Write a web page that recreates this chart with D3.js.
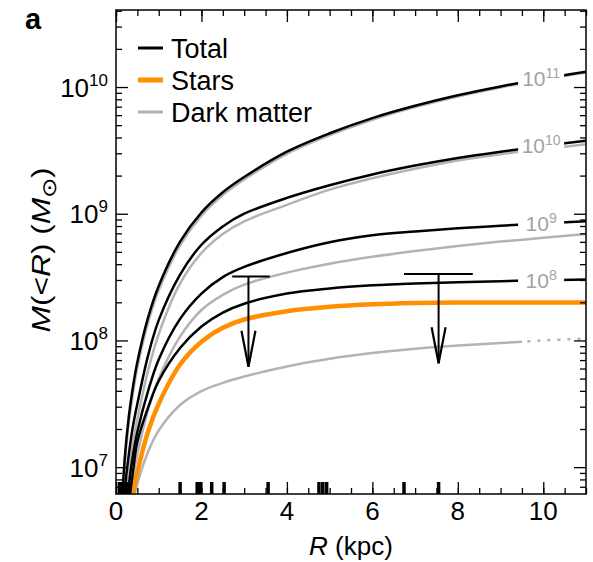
<!DOCTYPE html>
<html>
<head>
<meta charset="utf-8">
<script src="https://cdn.jsdelivr.net/npm/d3@7"></script>
<style>
  body { margin: 0; background: #fff; }
  svg { display: block; font-family: "Liberation Sans", Arial, Helvetica, sans-serif; }
</style>
</head>
<body>
<svg id="chart" width="593" height="562"></svg>
<script>
var radius = [0.1, 0.2, 0.3, 0.4, 0.5, 0.75, 1, 1.5, 2, 2.5, 3, 4, 5, 6, 7, 8, 9, 10, 11];

// log10 M(<R) in solar masses, one list per curve
var total11 = [6.45, 7.05, 7.40, 7.64, 7.83, 8.18, 8.43, 8.78, 9.01, 9.17, 9.29, 9.49, 9.635, 9.755, 9.852, 9.935, 10.005, 10.066, 10.12];
var dm11    = [6.40, 7.00, 7.35, 7.59, 7.785, 8.14, 8.395, 8.75, 8.985, 9.147, 9.27, 9.473, 9.62, 9.742, 9.842, 9.926, 9.997, 10.059, 10.114];
var total10 = [6.20, 6.80, 7.10, 7.33, 7.50, 7.88, 8.16, 8.52, 8.755, 8.90, 9.00, 9.125, 9.225, 9.31, 9.38, 9.44, 9.49, 9.535, 9.576];
var dm10    = [6.00, 6.60, 6.95, 7.20, 7.38, 7.76, 8.05, 8.45, 8.69, 8.84, 8.94, 9.07, 9.19, 9.28, 9.355, 9.42, 9.47, 9.51, 9.548];
var total9  = [5.90, 6.50, 6.85, 7.10, 7.28, 7.60, 7.85, 8.17, 8.37, 8.50, 8.58, 8.69, 8.775, 8.83, 8.86, 8.885, 8.905, 8.925, 8.94];
var dm9     = [5.60, 6.30, 6.65, 6.92, 7.10, 7.45, 7.70, 8.03, 8.24, 8.36, 8.44, 8.535, 8.605, 8.66, 8.705, 8.745, 8.78, 8.81, 8.84];
var total8  = [5.60, 6.30, 6.70, 6.97, 7.20, 7.47, 7.68, 7.94, 8.11, 8.22, 8.29, 8.37, 8.41, 8.435, 8.45, 8.46, 8.468, 8.474, 8.48];
var dm8     = [5.20, 5.95, 6.40, 6.72, 6.87, 7.12, 7.29, 7.49, 7.60, 7.665, 7.715, 7.795, 7.855, 7.90, 7.935, 7.96, 7.98, 8.00, 8.015];
var stars   = [5.50, 6.10, 6.50, 6.79, 6.96, 7.28, 7.50, 7.81, 7.99, 8.10, 8.165, 8.23, 8.265, 8.285, 8.295, 8.30, 8.30, 8.30, 8.30];
var dm8SolidTo = 9.5;   // beyond this the 10^8 halo is dotted

// halo labels on the right, attached to the total curves
var haloExp = [11, 10, 9, 8];
var haloLabelR = 9.95;

// upper limits (bar + downward arrow)
var limR    = [3.1, 7.55];
var limRlo  = [2.72, 6.74];
var limRhi  = [3.6, 8.35];
var limM    = [3.2e8, 3.35e8];
var limTipM = [6.2e7, 6.6e7];

// rug of data radii along the bottom
var rugR = [0.08, 0.13, 0.18, 0.23, 0.3, 1.5, 1.9, 1.97, 2.24, 2.53, 3.56, 4.75, 4.84, 4.93, 6.74, 7.55];

// axes
var xDomain = [0, 11];
var xMajor = [0, 2, 4, 6, 8, 10];
var xMinorStep = 0.5;
var yDomainExp = [6.788, 10.608];
var yMajorExp = [7, 8, 9, 10];

var legendItems = [
  {txt: 'Total', color: '#000', w: 3},
  {txt: 'Stars', color: '#ff8f00', w: 5},
  {txt: 'Dark matter', color: '#b3b3b3', w: 3}
];

var GRAY = '#b3b3b3', ORANGE = '#ff8f00', LABELGRAY = '#a3a3a3';

var margin = {top: 10, right: 7, bottom: 68, left: 116};
var width = 593 - margin.left - margin.right;
var height = 562 - margin.top - margin.bottom;

var svg = d3.select('#chart');
var g = svg.append('g').attr('transform', 'translate(' + margin.left + ',' + margin.top + ')');

var x = d3.scaleLinear().domain(xDomain).range([0, width]);
var y = d3.scaleLog()
  .domain([Math.pow(10, yDomainExp[0]), Math.pow(10, yDomainExp[1])])
  .range([height, 0]);

var defs = svg.append('defs');
defs.append('clipPath').attr('id', 'plot').append('rect')
  .attr('width', width).attr('height', height);
defs.append('clipPath').attr('id', 'solidPart').append('rect')
  .attr('width', x(dm8SolidTo)).attr('height', height);
defs.append('clipPath').attr('id', 'dotPart').append('rect')
  .attr('x', x(dm8SolidTo)).attr('width', width - x(dm8SolidTo)).attr('height', height);

var line = d3.line()
  .x(function(d) { return x(d[0]); })
  .y(function(d) { return y(Math.pow(10, d[1])); })
  .curve(d3.curveCatmullRom.alpha(0.5));
function pts(vals) { return radius.map(function(r, i) { return [r, vals[i]]; }); }

var curves = g.append('g').attr('clip-path', 'url(#plot)');
function drawCurve(vals, color, w, clip, dash) {
  var p = curves.append('path')
    .attr('d', line(pts(vals)))
    .attr('fill', 'none')
    .attr('stroke', color)
    .attr('stroke-width', w);
  if (clip) p.attr('clip-path', 'url(#' + clip + ')');
  if (dash) p.attr('stroke-dasharray', dash);
  return p;
}

// dark matter first, totals on top
drawCurve(dm8, GRAY, 2.5, 'solidPart');
drawCurve(dm8, GRAY, 2.5, 'dotPart', '3,7');
drawCurve(dm9, GRAY, 2.5);
drawCurve(dm10, GRAY, 2.5);
drawCurve(dm11, GRAY, 2.5);
drawCurve(stars, ORANGE, 4.5);
var totals = [total11, total10, total9, total8];
totals.forEach(function(t) { drawCurve(t, '#000', 2.5); });

// halo mass labels sitting on the total curves
var ri = radius.indexOf(10);
haloExp.forEach(function(e, i) {
  var cy = y(Math.pow(10, totals[i][ri]));
  var cx = x(haloLabelR);
  g.append('rect')
    .attr('x', cx - 23).attr('y', cy - 8)
    .attr('width', 46).attr('height', 16)
    .attr('fill', '#fff');
  var t = g.append('text')
    .attr('x', cx).attr('y', cy + 7.5)
    .attr('text-anchor', 'middle')
    .attr('fill', LABELGRAY)
    .style('font-size', '21px');
  t.append('tspan').text('10');
  t.append('tspan').attr('dy', -8).style('font-size', '14px').text(e);
});

// upper limits
var lims = g.append('g').attr('stroke', '#000').attr('stroke-width', 2).attr('fill', 'none');
limR.forEach(function(r, i) {
  var xb = x(r), yb = y(limM[i]), yt = y(limTipM[i]);
  lims.append('line').attr('x1', x(limRlo[i])).attr('x2', x(limRhi[i])).attr('y1', yb).attr('y2', yb);
  lims.append('line').attr('x1', xb).attr('x2', xb).attr('y1', yb).attr('y2', yt);
  lims.append('path')
    .attr('d', 'M' + (xb - 7) + ',' + (yt - 36) + 'L' + xb + ',' + yt + 'L' + (xb + 7) + ',' + (yt - 36))
    .attr('stroke-width', 2.2);
});

// rug
g.append('g').selectAll('line').data(rugR).join('line')
  .attr('x1', function(d) { return x(d); })
  .attr('x2', function(d) { return x(d); })
  .attr('y1', height).attr('y2', height - 12)
  .attr('stroke', '#000').attr('stroke-width', 3.5);

// ticks, all pointing inwards
var xMinor = d3.range(xDomain[0], xDomain[1] + 0.001, xMinorStep);
var yMajor = yMajorExp.map(function(e) { return Math.pow(10, e); });
var yMinor = [];
d3.range(6, 11).forEach(function(dec) {
  d3.range(2, 10).forEach(function(k) {
    var v = k * Math.pow(10, dec);
    if (v > y.domain()[0] && v < y.domain()[1]) yMinor.push(v);
  });
});

function ticks(axisFn, scale, vals, size, tx, ty) {
  g.append('g')
    .attr('transform', 'translate(' + tx + ',' + ty + ')')
    .call(axisFn(scale).tickValues(vals).tickSize(size).tickFormat(''))
    .call(function(a) {
      a.select('.domain').remove();
      a.selectAll('line').attr('stroke', '#000').attr('stroke-width', 1.3);
    });
}
ticks(d3.axisBottom, x, xMinor, -6, 0, height);
ticks(d3.axisBottom, x, xMajor, -12, 0, height);
ticks(d3.axisTop, x, xMinor, -6, 0, 0);
ticks(d3.axisTop, x, xMajor, -12, 0, 0);
ticks(d3.axisLeft, y, yMinor, -6, 0, 0);
ticks(d3.axisLeft, y, yMajor, -12, 0, 0);
ticks(d3.axisRight, y, yMinor, -6, width, 0);
ticks(d3.axisRight, y, yMajor, -12, width, 0);

// frame
g.append('rect').attr('width', width).attr('height', height)
  .attr('fill', 'none').attr('stroke', '#000').attr('stroke-width', 1.5);

// tick labels
g.append('g').selectAll('text').data(xMajor).join('text')
  .attr('x', function(d) { return x(d); })
  .attr('y', height + 26)
  .attr('text-anchor', 'middle')
  .style('font-size', '26px')
  .text(function(d) { return d; });

yMajorExp.forEach(function(e) {
  var t = g.append('text')
    .attr('x', -8).attr('y', y(Math.pow(10, e)) + 9.5)
    .attr('text-anchor', 'end')
    .style('font-size', '26px');
  t.append('tspan').text('10');
  t.append('tspan').attr('dy', -11).style('font-size', '17px').text(e);
});

// axis titles
var xt = g.append('text')
  .attr('x', width / 2).attr('y', height + 61)
  .attr('text-anchor', 'middle')
  .style('font-size', '26px');
xt.append('tspan').style('font-style', 'italic').text('R');
xt.append('tspan').text(' (kpc)');

// stretched along its length to match the wider original lettering
var yt = svg.append('text')
  .attr('transform', 'translate(50,' + (margin.top + height / 2 - 2) + ') rotate(-90) scale(1.22,1)')
  .attr('text-anchor', 'middle')
  .style('font-size', '26px');
yt.append('tspan').style('font-style', 'italic').text('M');
yt.append('tspan').text('(<');
yt.append('tspan').style('font-style', 'italic').text('R');
yt.append('tspan').text(') (');
yt.append('tspan').style('font-style', 'italic').text('M');
yt.append('tspan').attr('dy', 6).style('font-size', '20px').text('\u2299');
yt.append('tspan').attr('dy', -6).text(')');

// legend
var lg = svg.append('g');
legendItems.forEach(function(d, i) {
  var ly = 48 + i * 32;
  lg.append('line').attr('x1', 138).attr('x2', 163).attr('y1', ly).attr('y2', ly)
    .attr('stroke', d.color).attr('stroke-width', d.w);
  lg.append('text').attr('x', 171).attr('y', ly + 9.5)
    .style('font-size', '27px').text(d.txt);
});

// panel letter
svg.append('text').attr('x', 25).attr('y', 29)
  .style('font-size', '29px').style('font-weight', 'bold').text('a');
</script>
</body>
</html>
